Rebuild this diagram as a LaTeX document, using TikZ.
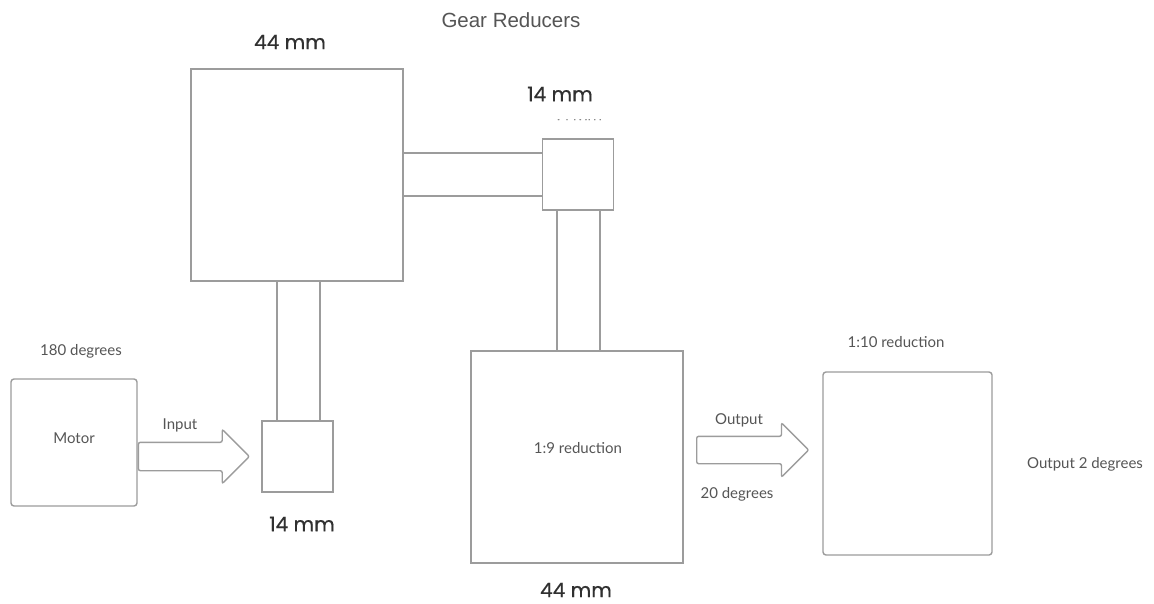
\documentclass[tikz,border=0pt]{standalone}
\usepackage{fontspec}
\setmainfont{Lato}
\newfontfamily\titlefont{Liberation Sans}
\newfontfamily\dimfont[FakeBold=0.5]{Poppins}
\usetikzlibrary{shapes.arrows,calc}
\definecolor{edgegray}{HTML}{9C9C9C}
\definecolor{labelgray}{HTML}{555555}
\definecolor{dimgray}{HTML}{303030}
\begin{document}
\begin{tikzpicture}[x=1pt,y=-1pt,
  box/.style={draw=edgegray,line width=1.4pt,inner sep=0pt,minimum width=#1,minimum height=#1},
  rbox/.style={box=#1,rounded corners=3pt},
  shaft/.style={draw=edgegray,line width=1.4pt},
  bigarrow/.style={single arrow,draw=edgegray,line width=1.4pt,rounded corners=2pt,
    inner sep=0pt,single arrow head indent=0pt},
  lbl/.style={text=labelgray,font=\fontsize{15}{18}\selectfont,inner sep=0pt},
  dim/.style={text=dimgray,font=\dimfont\fontsize{20}{24}\selectfont,inner sep=0pt},
  ttl/.style={text=labelgray,font=\titlefont\fontsize{20.5}{24}\selectfont,inner sep=0pt}]
\useasboundingbox (0,0) rectangle (1154,604);
\fill[white] (0,0) rectangle (1154,604);

% gear stages
\node[box=212pt] (big) at (297,175) {};
\node[box=71pt] (pinion) at (297.5,456.5) {};
\node[box=71pt] (topgear) at (578,174.5) {};
\node[box=212pt] (mid) at (577,457) {};
\node[rbox=126pt,minimum height=127pt] (motor) at (74,442.5) {};
\node[rbox=169pt,minimum height=183pt] (out) at (907.5,463.5) {};

% shaft end points on the driving gears
\coordinate (s1a) at ($(big.south)+(-20,0)$);
\coordinate (s1b) at ($(big.south)+(23,0)$);
\coordinate (s2a) at ($(big.east)+(0,-22)$);
\coordinate (s2b) at ($(big.east)+(0,21)$);
\coordinate (s3a) at ($(topgear.south)+(-21,0)$);
\coordinate (s3b) at ($(topgear.south)+(22,0)$);

% shafts between stages
\draw[shaft] (s1a) -- (s1a |- pinion.north);
\draw[shaft] (s1b) -- (s1b |- pinion.north);
\draw[shaft] (s2a) -- (s2a -| topgear.west);
\draw[shaft] (s2b) -- (s2b -| topgear.west);
\draw[shaft] (s3a) -- (s3a |- mid.north);
\draw[shaft] (s3b) -- (s3b |- mid.north);

% flow arrows
\node[bigarrow,minimum height=111pt,minimum width=53pt,inner ysep=13.5pt,
  single arrow head extend=13pt,anchor=west] (inarrow) at (motor.east |- 0,456.5) {};
\node[bigarrow,minimum height=112pt,minimum width=53pt,inner ysep=13pt,
  single arrow head extend=13.5pt,anchor=west] (outarrow) at (696,450) {};

% labels
\node[ttl] (title) at (511,20) {Gear Reducers};
\node[dim] (dimbig) at (290,42) {44 mm};
\node[dim] (dimtop) at (560,94) {14 mm};
\node[dim] (dimpin) at (302,524) {14 mm};
\node[dim] (dimmid) at (576,590) {44 mm};
\begin{scope}
  \clip (550,119.5) rectangle (610,124);
  \node[text=labelgray!70,font=\dimfont\fontsize{14}{16}\selectfont,inner sep=0pt] (dimtopb) at (579,115) {14 mm};
\end{scope}
\node[lbl] (deg180) at (81,351) {180 degrees};
\node[lbl] (motortxt) at (motor) [yshift=4pt] {Motor};
\node[lbl] (intxt) at (180,425) {Input};
\node[lbl] (midtxt) at (578,448) {1:9 reduction};
\node[lbl] (outtxt) at (739,420) {Output};
\node[lbl] (deg20) at (737,494) {20 degrees};
\node[lbl] (red10) at (896,342) {1:10 reduction};
\node[lbl] (deg2) at (1085,464) {Output 2 degrees};
\end{tikzpicture}
\end{document}
